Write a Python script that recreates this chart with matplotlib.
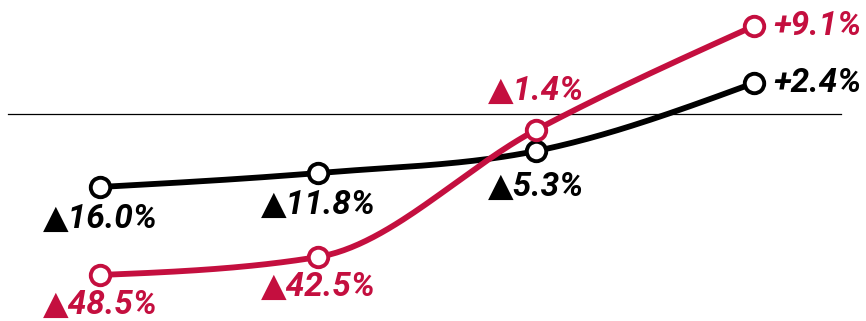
import numpy as np
import matplotlib.pyplot as plt

# data (values relative to the baseline)
periods = [0, 1, 2, 3]
black_vals = [-73, -59, -37, 31]
red_vals = [-161, -143, -16, 88]
black_labels = ['▲16.0%', '▲11.8%', '▲5.3%', '+2.4%']
red_labels = ['▲48.5%', '▲42.5%', '▲1.4%', '+9.1%']

RED = '#c40f3f'
BLACK = '#000000'


def monotone(x, y, n=60):
    # monotone cubic (like d3.curveMonotoneX)
    x = np.asarray(x, float)
    y = np.asarray(y, float)
    h = np.diff(x)
    s = np.diff(y) / h
    m = np.zeros_like(y)
    for i in range(1, len(y) - 1):
        if s[i - 1] * s[i] <= 0:
            m[i] = 0
        else:
            p = (s[i - 1] * h[i] + s[i] * h[i - 1]) / (h[i - 1] + h[i])
            m[i] = (np.sign(s[i - 1]) + np.sign(s[i])) * min(abs(s[i - 1]), abs(s[i]), 0.5 * abs(p))
    m[0] = (3 * s[0] - m[1]) / 2 if len(y) > 2 else s[0]
    m[-1] = (3 * s[-1] - m[-2]) / 2 if len(y) > 2 else s[-1]
    xs, ys = [], []
    for i in range(len(x) - 1):
        t = np.linspace(0, 1, n)
        h00 = 2 * t**3 - 3 * t**2 + 1
        h10 = t**3 - 2 * t**2 + t
        h01 = -2 * t**3 + 3 * t**2
        h11 = t**3 - t**2
        xs.append(x[i] + t * h[i])
        ys.append(h00 * y[i] + h10 * h[i] * m[i] + h01 * y[i + 1] + h11 * h[i] * m[i + 1])
    return np.concatenate(xs), np.concatenate(ys)


plt.rcParams['font.family'] = ['Roboto', 'DejaVu Sans']

fig = plt.figure(figsize=(8.66, 3.21), dpi=100)
ax = fig.add_axes([0, 0, 1, 1])
ax.set_xlim(-0.4587, 3.5138)
ax.set_ylim(-207, 114)
ax.axis('off')

# baseline
ax.plot([-0.422, 3.399], [0, 0], color='black', lw=0.9, zorder=1)

for vals, col, z in [(black_vals, BLACK, 2), (red_vals, RED, 3)]:
    xs, ys = monotone(periods, vals)
    ax.plot(xs, ys, color=col, lw=4.2, solid_capstyle='round', zorder=z)
    ax.plot(periods, vals, 'o', ms=14, mfc='white', mec=col, mew=2.8, zorder=z + 2)

txt = dict(fontsize=24, fontweight='bold', fontstyle='italic')

# black labels: below points, last one to the right
for i in range(3):
    ax.annotate(black_labels[i], (periods[i], black_vals[i]), xytext=(0, -23 if i < 2 else -26),
                textcoords='offset points', ha='center', va='center', color=BLACK, **txt)
ax.annotate(black_labels[3], (periods[3], black_vals[3]), xytext=(14, 0),
            textcoords='offset points', ha='left', va='center', color=BLACK, **txt)

# red labels
for i in range(2):
    ax.annotate(red_labels[i], (periods[i], red_vals[i]), xytext=(0, -21.5),
                textcoords='offset points', ha='center', va='center', color=RED, **txt)
ax.annotate(red_labels[2], (periods[2], red_vals[2]), xytext=(0, 28),
            textcoords='offset points', ha='center', va='center', color=RED, **txt)
ax.annotate(red_labels[3], (periods[3], red_vals[3]), xytext=(14, 0),
            textcoords='offset points', ha='left', va='center', color=RED, **txt)

fig.savefig('out.png', dpi=100)
